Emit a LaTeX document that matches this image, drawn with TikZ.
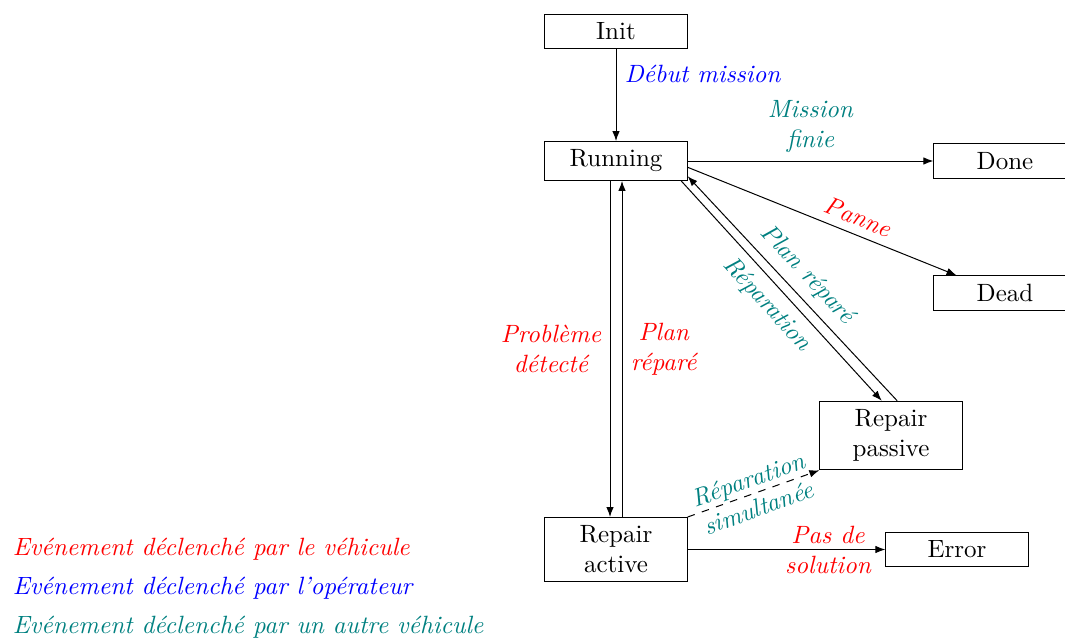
\documentclass[tikz,border=0pt]{standalone}
\usepackage{xcolor}
\usepackage{tikz}
\usetikzlibrary{arrows.meta,positioning}

\begin{document}
\begin{tikzpicture}[
  x=0.4pt,y=-0.4pt,
  state/.style={rectangle,draw,minimum width=2cm,align=center,inner sep=3.33pt},
  arr/.style={-{Latex[length=4pt,width=3pt]}},
  evt/.style={font=\itshape,align=center},
  veh/.style={evt,text=red},
  opr/.style={evt,text=blue},
  oth/.style={evt,text=teal}
]
  \useasboundingbox (0,0) rectangle (1065,639);

  % states
  \node[state](Init)    at (616,31.5)  {Init};
  \node[state](Running) at (616,161)   {Running};
  \node[state](Done)    at (1005,161)  {Done};
  \node[state](Dead)    at (1005,293)  {Dead};
  \node[state](RepairP) at (891,435.5) {Repair\\passive};
  \node[state](RepairA) at (616,549.5) {Repair\\active};
  \node[state](Error)   at (957,549.5) {Error};

  % transitions
  \draw[arr](Init)--node[opr,right,pos=0.27]{Début mission}(Running);
  \draw[arr](Running)--node[oth,above=0pt]{Mission\\finie}(Done);
  \draw[arr](Running.-5)--node[veh,sloped,above,pos=0.61]{Panne}(Dead.160);
  \draw[arr]([xshift=-2.4pt]Running.south)--node[veh,left]{Problème\\détecté}([xshift=-2.4pt]RepairA.north);
  \draw[arr]([xshift=2.4pt]RepairA.north)--node[veh,right]{Plan\\réparé}([xshift=2.4pt]Running.south);
  \draw[arr](Running.-17)--node[oth,sloped,below]{Réparation}(RepairP.105);
  \draw[arr](RepairP.80)--node[oth,sloped,above]{Plan réparé}(Running.-12);
  \draw[arr,dashed](RepairA.north east)--node[oth,sloped]{Réparation\\simultanée}(RepairP.south west);
  \draw[arr](RepairA)--node[veh,pos=0.71]{Pas de\\solution}(Error);

  % legend
  \node[veh,anchor=base west](legVeh)   at (4,555) {Evénement déclenché par le véhicule};
  \node[opr,anchor=base west](legOp)    at (4,594) {Evénement déclenché par l'opérateur};
  \node[oth,anchor=base west](legAutre) at (4,633) {Evénement déclenché par un autre véhicule};
\end{tikzpicture}
\end{document}
